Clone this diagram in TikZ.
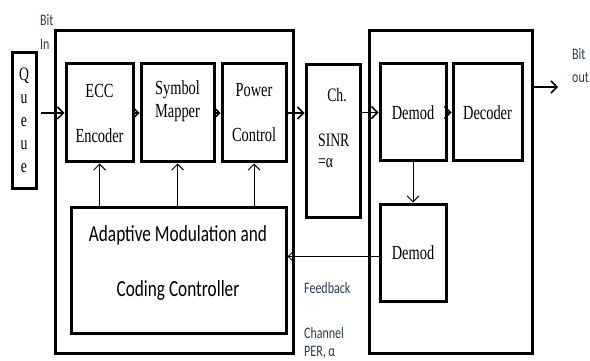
\documentclass[tikz,border=0pt]{standalone}
\usepackage{fontspec}
\setmainfont{Liberation Serif}[FakeStretch=0.72]
\newfontfamily\calfont{Carlito}[FakeStretch=0.75]
\usetikzlibrary{positioning,arrows.meta}
\definecolor{lblcol}{RGB}{38,60,84}
\tikzset{
  blk/.style={draw, line width=3pt, inner sep=0pt, align=center},
  outerbox/.style={draw, line width=3pt, inner sep=0pt},
  fwd/.style={-{Straight Barb[length=6pt,width=12pt]}, line width=1.5pt},
  fbk/.style={-{Straight Barb[length=6pt,width=12pt]}, line width=1pt},
  lbl/.style={font=\calfont\fontsize{16}{16}\selectfont, text=lblcol, inner sep=0pt},
  txt/.style={font=\fontsize{19}{19}\selectfont, inner sep=0pt},
}

\begin{document}
\begin{tikzpicture}[x=1pt, y=-1pt]
\clip (0,0) rectangle (590,361);
%Outer boxes
\node[outerbox, minimum width=238pt, minimum height=322pt] (tx) at (174,192) {};
\node[outerbox, minimum width=163pt, minimum height=322pt] (rx) at (450.5,192) {};

%Nodes
\node[blk, minimum width=24pt, minimum height=135pt, font=\fontsize{19}{23}\selectfont] (queue) at (24,120.5) {Q\\u\\e\\u\\e};
\node[blk, minimum width=67pt, minimum height=98pt, font=\fontsize{20}{45}\selectfont] (enc) at (99.5,113) {ECC\\Encoder};
\node[blk, minimum width=73pt, minimum height=98pt] (sm) at (177.5,113) {};
\node[txt, align=center, font=\fontsize{20}{23}\selectfont] (smtxt) at (177.5,101) {Symbol\\Mapper};
\node[blk, minimum width=64pt, minimum height=98pt, font=\fontsize{20}{45}\selectfont] (pc) at (254,113) {Power\\Control};
\node[blk, minimum width=54pt, minimum height=152pt] (ch) at (333,141) {};
\node[txt] (chtxt) at (337,95) {Ch.};
\node[txt, anchor=west] (sinr) at (318,140) {SINR};
\node[txt, anchor=west] (alpha) at (318,163) {=α};
\node[blk, minimum width=66pt, minimum height=97pt, font=\fontsize{20}{20}\selectfont] (dem) at (413,112.5) {Demod};
\node[blk, minimum width=69pt, minimum height=97pt, font=\fontsize{20}{20}\selectfont] (dec) at (487.5,112.5) {Decoder};
\node[blk, minimum width=66pt, minimum height=97pt, font=\fontsize{20}{20}\selectfont] (dem2) at (413,252.5) {Demod};
\node[blk, minimum width=215pt, minimum height=126pt] (amc) at (178.5,270) {};
\node[inner sep=0pt, align=center, font=\calfont\fontsize{23}{55}\selectfont] (amctxt) at (178,262.5) {Adaptive Modulation and\\Coding Controller};

%Labels
\node[lbl, anchor=west] (bit1) at (40,20) {Bit};
\node[lbl, anchor=west] (in) at (40,44) {In};
\node[lbl, anchor=west] (bit2) at (572,54) {Bit};
\node[lbl, anchor=west] (out) at (572,78) {out};
\node[lbl, anchor=west] (fb) at (304,288) {Feedback};
\node[lbl, anchor=west] (chan) at (304,333) {Channel};
\node[lbl, anchor=west] (per) at (304,352) {PER, α};
\coordinate (bitout) at (558,87);

%Lines
\draw[fwd] ([xshift=3pt]queue.east |- enc.west) -- (enc.west);
\draw[fwd] (enc.east) -- (sm.west);
\draw[fwd] (sm.east) -- (pc.west);
\draw[fwd] (pc.east) -- (pc.east -| ch.west);
\draw[fwd] (ch.east |- dem.west) -- (dem.west);
\draw[fwd] (dem.east) -- (dec.west);
\draw[fwd] (rx.east |- bitout) -- (bitout);
\draw[fbk] (dem.south) -- (dem2.north);
\draw[fbk] ([yshift=-4pt]dem2.west) -- ([yshift=-4pt]dem2.west -| amc.east);
\draw[fbk] (amc.north -| enc.south) -- (enc.south);
\draw[fbk] (amc.north -| sm.south) -- (sm.south);
\draw[fbk] (amc.north -| pc.south) -- (pc.south);
\end{tikzpicture}
\end{document}
